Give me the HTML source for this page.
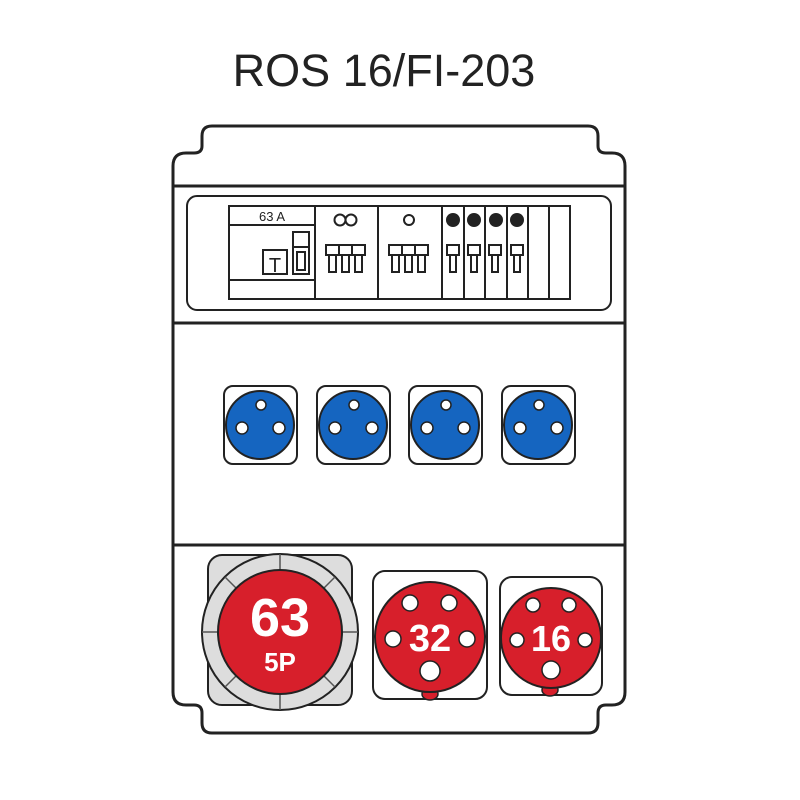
<!DOCTYPE html>
<html><head><style>body{margin:0;background:#fff}svg{display:block}</style></head><body>
<svg width="800" height="800" viewBox="0 0 800 800" xmlns="http://www.w3.org/2000/svg" font-family="Liberation Sans, sans-serif">
<text x="384" y="86" font-size="45" text-anchor="middle" fill="#222">ROS 16/FI-203</text>
<g fill="none" stroke="#222" stroke-width="3">
<path d="M212 126 H588 Q598 126 598 136 V146 Q598 153 606 153 H612 Q625 153 625 166 V692 Q625 705 612 705 H606 Q598 705 598 713 V723 Q598 733 588 733 H212 Q202 733 202 723 V713 Q202 705 194 705 H186 Q173 705 173 692 V166 Q173 153 186 153 H194 Q202 153 202 146 V136 Q202 126 212 126 Z"/>
<line x1="173" y1="186" x2="625" y2="186"/>
<line x1="173" y1="323" x2="625" y2="323"/>
<line x1="173" y1="545" x2="625" y2="545"/>
</g>
<rect x="187" y="196" width="424" height="114" rx="10" fill="none" stroke="#222" stroke-width="2"/>
<g fill="none" stroke="#222" stroke-width="2">
<rect x="229" y="206" width="341" height="93"/>
<line x1="229" y1="225" x2="315" y2="225"/>
<line x1="229" y1="280" x2="315" y2="280"/>
<line x1="315" y1="206" x2="315" y2="299"/>
<line x1="378" y1="206" x2="378" y2="299"/>
<line x1="442" y1="206" x2="442" y2="299"/>
<line x1="464" y1="206" x2="464" y2="299"/>
<line x1="485" y1="206" x2="485" y2="299"/>
<line x1="507" y1="206" x2="507" y2="299"/>
<line x1="528" y1="206" x2="528" y2="299"/>
<line x1="549" y1="206" x2="549" y2="299"/>
<rect x="263" y="250" width="24" height="24"/>
<rect x="293" y="232" width="16" height="42"/>
<line x1="293" y1="247" x2="309" y2="247"/>
<rect x="297" y="252" width="8" height="18"/>
<circle cx="409" cy="220" r="5"/>
<circle cx="340" cy="220" r="5.5"/><circle cx="351" cy="220" r="5.5"/>
</g>
<text x="272" y="221" font-size="13" text-anchor="middle" fill="#222">63 A</text>
<text x="275" y="272" font-size="20" text-anchor="middle" fill="#222">T</text>
<g fill="none" stroke="#222" stroke-width="2">
<g id="b3"><rect x="326" y="245" width="13" height="10"/><rect x="339" y="245" width="13" height="10"/><rect x="352" y="245" width="13" height="10"/><rect x="329" y="255" width="7" height="17"/><rect x="342" y="255" width="7" height="17"/><rect x="355" y="255" width="7" height="17"/></g>
<use href="#b3" x="63"/>
<g id="b1"><rect x="447" y="245" width="12" height="10"/><rect x="450" y="255" width="6" height="17"/></g>
<use href="#b1" x="21"/><use href="#b1" x="42"/><use href="#b1" x="64"/>
</g>
<g fill="#222"><circle cx="453" cy="220" r="7"/><circle cx="474" cy="220" r="7"/><circle cx="496" cy="220" r="7"/><circle cx="517" cy="220" r="7"/></g>
<g id="bs">
<rect x="224" y="386" width="73" height="78" rx="9" fill="#fff" stroke="#222" stroke-width="2"/>
<circle cx="260" cy="425" r="34" fill="#1565c0" stroke="#222" stroke-width="2"/>
<g fill="#fff" stroke="#222" stroke-width="1.5"><circle cx="261" cy="405" r="5"/><circle cx="242" cy="428" r="6"/><circle cx="279" cy="428" r="6"/></g>
</g>
<use href="#bs" x="93"/><use href="#bs" x="185"/><use href="#bs" x="278"/>
<rect x="208" y="555" width="144" height="150" rx="14" fill="#ddd" stroke="#222" stroke-width="2"/>
<circle cx="280" cy="632" r="78" fill="#ddd" stroke="#222" stroke-width="2"/>
<g stroke="#555" stroke-width="1.5"><line x1="280" y1="554" x2="280" y2="710"/><line x1="202" y1="632" x2="358" y2="632"/><line x1="225" y1="577" x2="335" y2="687"/><line x1="335" y1="577" x2="225" y2="687"/></g>
<circle cx="280" cy="632" r="62" fill="#d71f2b" stroke="#222" stroke-width="2"/>
<text x="280" y="636" font-size="54" font-weight="bold" text-anchor="middle" fill="#fff">63</text>
<text x="280" y="671" font-size="26" font-weight="bold" text-anchor="middle" fill="#fff">5P</text>
<rect x="373" y="571" width="114" height="128" rx="12" fill="#fff" stroke="#222" stroke-width="2"/>
<ellipse cx="430" cy="694" rx="8" ry="6" fill="#d71f2b" stroke="#222" stroke-width="1.5"/>
<circle cx="430" cy="637" r="55" fill="#d71f2b" stroke="#222" stroke-width="2"/>
<g fill="#fff" stroke="#222" stroke-width="1.5"><circle cx="410" cy="603" r="8"/><circle cx="449" cy="603" r="8"/><circle cx="393" cy="639" r="8"/><circle cx="467" cy="639" r="8"/><circle cx="430" cy="671" r="10"/></g>
<text x="430" y="651" font-size="38" font-weight="bold" text-anchor="middle" fill="#fff">32</text>
<rect x="500" y="577" width="102" height="118" rx="12" fill="#fff" stroke="#222" stroke-width="2"/>
<ellipse cx="550" cy="690" rx="8" ry="6" fill="#d71f2b" stroke="#222" stroke-width="1.5"/>
<circle cx="551" cy="638" r="50" fill="#d71f2b" stroke="#222" stroke-width="2"/>
<g fill="#fff" stroke="#222" stroke-width="1.5"><circle cx="533" cy="605" r="7"/><circle cx="569" cy="605" r="7"/><circle cx="517" cy="640" r="7"/><circle cx="585" cy="640" r="7"/><circle cx="551" cy="670" r="9"/></g>
<text x="551" y="651" font-size="36" font-weight="bold" text-anchor="middle" fill="#fff">16</text>
</svg>
</body></html>
